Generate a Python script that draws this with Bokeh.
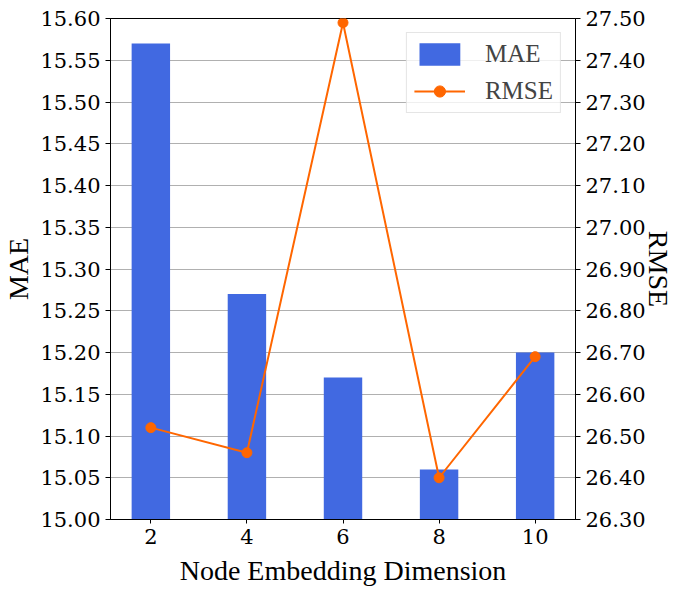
from bokeh.plotting import figure
from bokeh.models import (Range1d, LinearAxis, FixedTicker, NumeralTickFormatter,
                          Legend, LegendItem)
from bokeh.embed import file_html
from bokeh.resources import INLINE

# Data
dims = [2, 4, 6, 8, 10]
mae = [15.57, 15.27, 15.17, 15.06, 15.20]
rmse = [26.52, 26.46, 27.49, 26.40, 26.69]
mae_ticks = [15.00, 15.05, 15.10, 15.15, 15.20, 15.25, 15.30, 15.35, 15.40, 15.45, 15.50, 15.55, 15.60]
rmse_ticks = [26.3, 26.4, 26.5, 26.6, 26.7, 26.8, 26.9, 27.0, 27.1, 27.2, 27.3, 27.4, 27.5]

FONT = "Liberation Serif"
TICK_FONT = "DejaVu Serif"
BAR = "#4169E1"
LINE = "#FF6600"

p = figure(frame_width=465, frame_height=501, output_backend="svg", toolbar_location=None,
           x_range=Range1d(1.16, 10.84), y_range=Range1d(15.0, 15.6),
           min_border_left=108, min_border_top=18, min_border_right=99, min_border_bottom=70)
p.extra_y_ranges = {"rmse": Range1d(26.3, 27.5)}

bars = p.vbar(x=dims, top=mae, bottom=15.0, width=0.8, fill_color=BAR, line_color=None)
ln = p.line(dims, rmse, y_range_name="rmse", line_color=LINE, line_width=2)
pts = p.scatter(dims, rmse, y_range_name="rmse", size=10, fill_color=LINE, line_color=LINE)

right = LinearAxis(y_range_name="rmse", axis_label="RMSE")
try:
    right.axis_label_orientation = "vertical"
except Exception:
    pass
p.add_layout(right, "right")

p.xaxis.ticker = FixedTicker(ticks=dims)
p.xaxis.axis_label = "Node Embedding Dimension"
p.yaxis[0].ticker = FixedTicker(ticks=mae_ticks)
p.yaxis[0].formatter = NumeralTickFormatter(format="0.00")
p.yaxis[0].axis_label = "MAE"
right.ticker = FixedTicker(ticks=rmse_ticks)
right.formatter = NumeralTickFormatter(format="0.00")

for ax in [p.xaxis[0], p.yaxis[0], right]:
    ax.major_label_text_font = TICK_FONT
    ax.major_label_text_font_size = "21px"
    ax.major_label_text_color = "black"
    ax.axis_label_text_font = FONT
    ax.axis_label_text_font_size = "28px"
    ax.axis_label_text_font_style = "normal"
    ax.axis_label_text_color = "black"
    ax.axis_line_color = "black"
    ax.major_tick_line_color = "black"
    ax.major_tick_out = 5
    ax.major_tick_in = 0
    ax.minor_tick_line_color = None
    ax.major_label_standoff = 5
    ax.axis_label_standoff = 8
p.xaxis[0].major_tick_out = 4
p.yaxis[0].axis_label_standoff = 3
try:
    right.axis_label_standoff = -6
except Exception:
    right.axis_label_standoff = 0

p.xgrid.grid_line_color = None
p.ygrid.ticker = FixedTicker(ticks=mae_ticks)
p.ygrid.grid_line_color = "#b0b0b0"
p.ygrid.grid_line_width = 1
p.outline_line_color = "black"
p.outline_line_alpha = 1
p.background_fill_color = "white"

legend = Legend(items=[LegendItem(label="MAE", renderers=[bars]),
                       LegendItem(label="RMSE", renderers=[ln, pts])],
                location="top_right")
legend.label_text_font = FONT
legend.label_text_font_size = "25px"
legend.glyph_width = 51
legend.glyph_height = 28
legend.label_height = 28
legend.spacing = 9
legend.padding = 7
legend.margin = 14
legend.label_standoff = 20
legend.border_line_color = "#cccccc"
legend.border_line_width = 1
legend.background_fill_alpha = 0.8
p.add_layout(legend)

open("out.html", "w").write(file_html(p, INLINE))
